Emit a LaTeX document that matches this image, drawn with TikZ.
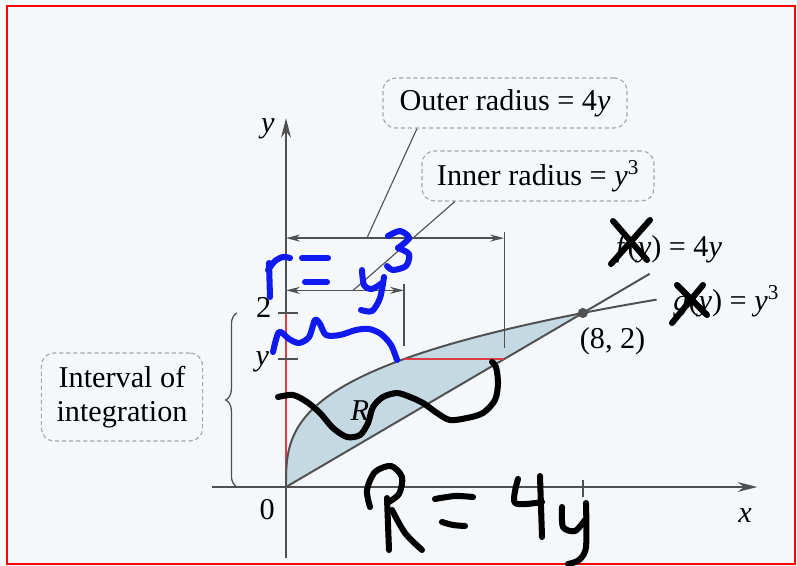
\documentclass[tikz,border=0pt]{standalone}
\usepackage{fontspec}
\setmainfont{Liberation Serif}
\usetikzlibrary{arrows.meta,decorations.pathreplacing}

\definecolor{paper}{RGB}{245,248,251}
\definecolor{axisgray}{RGB}{80,80,80}
\definecolor{regionfill}{RGB}{196,217,226}
\definecolor{inkblue}{RGB}{15,25,240}
\definecolor{axisred}{RGB}{220,60,70}

\tikzset{
  axis/.style={draw=axisgray, line width=1.1pt},
  curve/.style={draw=axisgray, line width=1.4pt},
  labelbox/.style={draw=gray!70, densely dashed, line width=0.8pt, rounded corners=9pt,
    inner xsep=9pt, minimum height=1.25cm, align=center},
  dimline/.style={draw=axisgray, line width=0.9pt,
    {Stealth[length=10pt,width=5pt]}-{Stealth[length=10pt,width=5pt]}},
  leader/.style={draw=axisgray, line width=0.8pt},
  ink/.style={line width=4.3pt, line cap=round, line join=round},
}

\begin{document}
\begin{tikzpicture}[x=0.025cm, y=-0.025cm, font=\fontsize{21.5}{24}\selectfont]
\fill[paper] (0,0) rectangle (797,566);
\useasboundingbox (0,0) rectangle (797,566);
\draw[red, line width=1.3pt] (7,6) rectangle (795,564);

% graph, x in units of 1, y in units of 1
\begin{scope}[shift={(286,487)}, x=0.9275cm, y=2.175cm]
  \fill[regionfill] plot[domain=0:2, samples=50] ({\x^3},\x) -- cycle;
  \draw[axis, -{Stealth[length=14pt,width=7pt]}] (-2,0) -- (12.7,0);
  \draw[axis, -{Stealth[length=14pt,width=7pt]}] (0,-0.82) -- (0,4.24);
  \draw[axisred, line width=1.4pt] (0,0) -- (0,2);
  \draw[curve] plot[domain=0:2.154, samples=60] ({\x^3},\x);
  \draw[curve] (0,0) -- (9.8,2.45);
  \draw[axisred, line width=1.4pt] ({1.47^3},1.47) -- (5.88,1.47);
  \fill[axisgray] (8,2) circle (3.6pt);
  % ticks
  \draw[axis] (-0.22,2) -- (0.32,2);
  \draw[axis] (-0.22,1.47) -- (0.32,1.47);
  \draw[axis] (8,0.08) -- (8,-0.11);
  \node (xlab) at (12.37,-0.33) {\textit{x}};
  \node (ylab) at (-0.49,4.12) {\textit{y}};
  \node (zero) at (-0.51,-0.26) {0};
  \node (two) at (-0.6,2.06) {2};
  \node (ytick) at (-0.64,1.44) {\textit{y}};
  \node (reg) at (1.99,0.88) {\textit{R}};
  \node (pt) at (8.8,1.68) {(8, 2)};
  % radii
  \draw[dimline] (0,2.86) -- (5.88,2.86);
  \draw[axis, line width=0.9pt] (5.88,2.93) -- (5.88,1.6);
  \draw[dimline] (0,2.26) -- (3.18,2.26);
  \draw[axis, line width=0.9pt] (3.18,2.33) -- (3.18,1.62);
  \coordinate (outhit) at (2.18,2.86);
  \coordinate (inhit) at (1.81,2.26);
  % interval
  \draw[axisgray, line width=0.9pt, decorate, decoration={brace, amplitude=8pt}]
    (-1.32,0) -- (-1.32,2);
\end{scope}

\node[labelbox, minimum width=6.1cm] (outer) at (505,103) {Outer radius = 4\textit{y}};
\node[labelbox, minimum width=5.8cm] (inner) at (538,176) {Inner radius = \textit{y}\textsuperscript{3}};
\node[labelbox, minimum width=4.03cm, minimum height=2.2cm, font=\fontsize{21.5}{24}\selectfont]
  (interval) at (122,397) {Interval of\\integration};
\draw[leader] ([xshift=-2.2cm]outer.south) -- (outhit);
\draw[leader] ([xshift=-2.08cm]inner.south) -- (inhit);

\node[anchor=base east] (flab) at (727,256) {\textit{f}(\textit{y}) = 4\textit{y}};
\node[anchor=base east] (glab) at (784,310) {\textit{g}(\textit{y}) = \textit{y}\textsuperscript{3}};

% handwriting, blue
\begin{scope}[ink, inkblue]
  \draw (269,263) -- (270,297);
  \draw plot[smooth] coordinates {(268,270) (275,261) (283,257) (290,258)};
  \draw (302,258) -- (328,258);
  \draw (305,282) -- (327,282);
  \draw plot[smooth] coordinates {(362,270) (364,285) (372,289) (382,283)};
  \draw plot[smooth] coordinates {(384,277) (380,298) (372,311) (361,310)};
  \draw plot[smooth] coordinates {(388,236) (400,231) (409,238) (398,248)};
  \draw plot[smooth] coordinates {(398,248) (409,254) (406,266) (393,270) (387,266)};
  \draw plot[smooth] coordinates {(273,352) (279,332) (289,339) (299,343) (309,337)
    (315,320) (320,324) (326,335) (340,335) (356,330) (369,329) (381,334) (391,345) (397,360)};
\end{scope}

% handwriting, black
\begin{scope}[ink, black]
  \draw plot[smooth] coordinates {(278,397) (293,395) (307,402) (320,413) (333,428)
    (347,437) (360,435) (368,423) (373,407) (383,397) (397,393) (410,397) (423,403)
    (437,413) (450,420) (467,418) (483,413) (495,400) (498,383) (496,367) (492,362)};
  \draw plot[smooth] coordinates {(370,507) (367,490) (375,472) (391,466) (402,477) (399,494) (387,503)};
  \draw (387,498) -- (389,550);
  \draw plot[smooth] coordinates {(392,510) (405,533) (422,550)};
  \draw plot[smooth] coordinates {(435,499) (455,496) (473,497)};
  \draw plot[smooth] coordinates {(442,522) (453,525) (465,526)};
  \draw plot[smooth] coordinates {(518,479) (515,503) (542,502)};
  \draw (540,476) -- (542,537);
  \draw plot[smooth] coordinates {(562,507) (563,527) (575,531) (585,520)};
  \draw plot[smooth] coordinates {(586,503) (586,547) (579,560) (568,564)};
  \draw (613,221) -- (647,260);
  \draw (650,220) -- (611,264);
  \draw (677,285) -- (707,315);
  \draw (703,285) -- (672,323);
\end{scope}
\end{tikzpicture}
\end{document}
